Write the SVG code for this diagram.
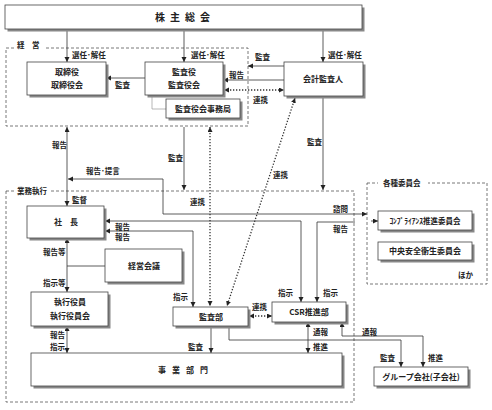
<svg xmlns="http://www.w3.org/2000/svg" width="492" height="410" viewBox="0 0 492 410">
<style>
text{font-family:"Noto Sans CJK JP","Noto Sans CJK SC",sans-serif;fill:#222;font-weight:bold}
.lb{font-size:7.5px}
.bt{font-size:8px;text-anchor:middle}
.box{fill:#fff;stroke:#444;stroke-width:0.8}
.sh{fill:#888}
.ln{fill:none;stroke:#333;stroke-width:0.8}
.dot{fill:none;stroke:#333;stroke-width:1.3;stroke-dasharray:1.3,1.7}
.dash{fill:none;stroke:#555;stroke-width:0.8;stroke-dasharray:3,2}
.thin{fill:none;stroke:#999;stroke-width:0.7}
</style>
<defs>
<marker id="a" markerUnits="userSpaceOnUse" markerWidth="6" markerHeight="6" refX="5" refY="2.5" orient="auto-start-reverse"><path d="M0,0 L5,2.5 L0,5 z" fill="#222"/></marker>
</defs>
<rect width="492" height="410" fill="#fff"/>

<g id="regions">
<rect class="dash" x="6" y="48" width="242" height="78"/>
<rect x="14" y="41" width="32" height="10" fill="#fff"/>
<text class="lb" x="17" y="48">経　営</text>
<rect class="dash" x="6" y="191" width="348" height="211"/>
<rect x="14" y="185" width="37" height="10" fill="#fff"/>
<text class="lb" x="17" y="193.5">業務執行</text>
<rect class="dash" x="367" y="183" width="120" height="101"/>
<rect x="378" y="177" width="50" height="12" fill="#fff"/>
<text class="lb" x="383" y="186">各種委員会</text>
<text class="lb" x="458" y="277.5">ほか</text>
</g>

<g id="connectors">
<path class="ln" d="M67,29V62" marker-end="url(#a)"/>
<path class="ln" d="M184,29V62" marker-end="url(#a)"/>
<path class="ln" d="M323,29V62" marker-end="url(#a)"/>
<path class="ln" d="M145,78H106" marker-end="url(#a)"/>
<path class="ln" d="M284,66H248" marker-end="url(#a)"/>
<path class="ln" d="M284,80H223" marker-end="url(#a)"/>
<path class="dot" d="M224,90H284" marker-start="url(#a)" marker-end="url(#a)"/>
<path class="thin" d="M152,95V109H166"/>
<path class="ln" d="M67,127V206" marker-start="url(#a)" marker-end="url(#a)"/>
<path class="ln" d="M68,179H163V214H367" marker-start="url(#a)" marker-end="url(#a)"/>
<path class="ln" d="M371,221H378" marker-end="url(#a)"/>
<path class="ln" d="M317,302V222H355" marker-start="url(#a)"/>
<path class="ln" d="M105,221H301V302" marker-start="url(#a)" marker-end="url(#a)"/>
<path class="ln" d="M105,231H193V307" marker-start="url(#a)" marker-end="url(#a)"/>
<path class="ln" d="M184,127V190" marker-end="url(#a)"/>
<path class="ln" d="M323,96V190" marker-end="url(#a)"/>
<path class="dot" d="M210,127V306" marker-start="url(#a)" marker-end="url(#a)"/>
<path class="dot" d="M295,98L227,306" marker-start="url(#a)" marker-end="url(#a)"/>
<path class="ln" d="M67,266H105"/>
<path class="ln" d="M67,238V292" marker-start="url(#a)" marker-end="url(#a)"/>
<path class="ln" d="M67,326V353" marker-start="url(#a)" marker-end="url(#a)"/>
<path class="ln" d="M211,326V353" marker-end="url(#a)"/>
<path class="ln" d="M229,326V340H401V367" marker-end="url(#a)"/>
<path class="ln" d="M308,322V353" marker-start="url(#a)" marker-end="url(#a)"/>
<path class="ln" d="M342,322V336H423V367" marker-start="url(#a)" marker-end="url(#a)"/>
<path class="dot" d="M249,316H272" marker-start="url(#a)" marker-end="url(#a)"/>
</g>

<g id="labels">
<text class="lb" x="72" y="58">選任･解任</text>
<text class="lb" x="191" y="58">選任･解任</text>
<text class="lb" x="328" y="58">選任･解任</text>
<text class="lb" x="115" y="88">監査</text>
<text class="lb" x="255" y="60">監査</text>
<text class="lb" x="229" y="77.5">報告</text>
<text class="lb" x="253" y="102.5">連携</text>
<text class="lb" x="52" y="147.5">報告</text>
<text class="lb" x="86" y="173.5">報告･提言</text>
<text class="lb" x="168" y="160.5">監査</text>
<text class="lb" x="307" y="144.5">監査</text>
<text class="lb" x="72" y="202.5">監督</text>
<text class="lb" x="190" y="204.5">連携</text>
<text class="lb" x="273" y="177.5">連携</text>
<text class="lb" x="333" y="211.5">諮問</text>
<text class="lb" x="333" y="231.5">報告</text>
<text class="lb" x="115" y="229.5">報告</text>
<text class="lb" x="115" y="240">報告</text>
<text class="lb" x="43" y="254.5">報告等</text>
<text class="lb" x="43" y="285.5">指示等</text>
<text class="lb" x="173" y="299.5">指示</text>
<text class="lb" x="278" y="295.5">指示</text>
<text class="lb" x="323" y="295.5">指示</text>
<text class="lb" x="252" y="309.5">連携</text>
<text class="lb" x="50" y="337.5">報告</text>
<text class="lb" x="50" y="349.5">指示</text>
<text class="lb" x="188" y="349.5">監査</text>
<text class="lb" x="313" y="334.5">通報</text>
<text class="lb" x="313" y="349.5">推進</text>
<text class="lb" x="362" y="334.5">通報</text>
<text class="lb" x="380" y="360.5">監査</text>
<text class="lb" x="428" y="360.5">推進</text>
</g>

<g id="n-kabunushi">
<rect class="sh" x="7.5" y="7.5" width="357" height="24"/>
<rect class="box" x="5" y="5" width="357" height="24"/>
<text x="185" y="21" style="font-size:10px;letter-spacing:5px;text-anchor:middle">株主総会</text>
</g>
<g id="n-torishimari">
<rect class="sh" x="29.5" y="64.5" width="79" height="33"/>
<rect class="box" x="27" y="62" width="79" height="33"/>
<text class="bt" x="67" y="75">取締役</text>
<text class="bt" x="67" y="88">取締役会</text>
</g>
<g id="n-kansayaku">
<rect class="sh" x="147.5" y="64.5" width="78" height="33"/>
<rect class="box" x="145" y="62" width="78" height="33"/>
<text class="bt" x="184" y="75">監査役</text>
<text class="bt" x="184" y="88">監査役会</text>
</g>
<g id="n-jimukyoku">
<rect class="sh" x="168.5" y="101.5" width="74" height="19"/>
<rect class="box" x="166" y="99" width="74" height="19"/>
<text class="bt" x="203" y="111.5">監査役会事務局</text>
</g>
<g id="n-kaikei">
<rect class="sh" x="286.5" y="64.5" width="79" height="34"/>
<rect class="box" x="284" y="62" width="79" height="34"/>
<text class="bt" x="323" y="82">会計監査人</text>
</g>
<g id="n-shacho">
<rect class="sh" x="29.5" y="208.5" width="77" height="32"/>
<rect class="box" x="27" y="206" width="77" height="32"/>
<text class="bt" x="66" y="225">社　長</text>
</g>
<g id="n-keieikaigi">
<rect class="sh" x="107.5" y="251.5" width="77" height="33"/>
<rect class="box" x="105" y="249" width="77" height="33"/>
<text class="bt" x="144" y="268.5">経営会議</text>
</g>
<g id="n-shikko">
<rect class="sh" x="33.5" y="294.5" width="77" height="34"/>
<rect class="box" x="31" y="292" width="77" height="34"/>
<text class="bt" x="70" y="305">執行役員</text>
<text class="bt" x="70" y="319">執行役員会</text>
</g>
<g id="n-kansabu">
<rect class="sh" x="175.5" y="309.5" width="75" height="19"/>
<rect class="box" x="173" y="307" width="75" height="19"/>
<text class="bt" x="211" y="319.5">監査部</text>
</g>
<g id="n-csr">
<rect class="sh" x="274.5" y="304.5" width="74" height="20"/>
<rect class="box" x="272" y="302" width="74" height="20"/>
<text class="bt" x="309" y="315">CSR推進部</text>
</g>
<g id="n-jigyo">
<rect class="sh" x="33.5" y="355.5" width="311" height="33"/>
<rect class="box" x="31" y="353" width="311" height="33"/>
<text class="bt" x="186" y="373" style="letter-spacing:6px">事業部門</text>
</g>
<g id="n-compliance">
<rect class="sh" x="380.5" y="213.5" width="94" height="19"/>
<rect class="box" x="378" y="211" width="94" height="19"/>
<text class="bt" x="425" y="223.5" style="font-size:7.5px">ｺﾝﾌﾟﾗｲｱﾝｽ推進委員会</text>
</g>
<g id="n-anzen">
<rect class="sh" x="380.5" y="244.5" width="94" height="18"/>
<rect class="box" x="378" y="242" width="94" height="18"/>
<text class="bt" x="425" y="254">中央安全衛生委員会</text>
</g>
<g id="n-group">
<rect class="sh" x="376.5" y="369.5" width="94" height="19"/>
<rect class="box" x="374" y="367" width="94" height="19"/>
<text class="bt" x="421" y="379.5">グループ会社(子会社)</text>
</g>
</svg>
